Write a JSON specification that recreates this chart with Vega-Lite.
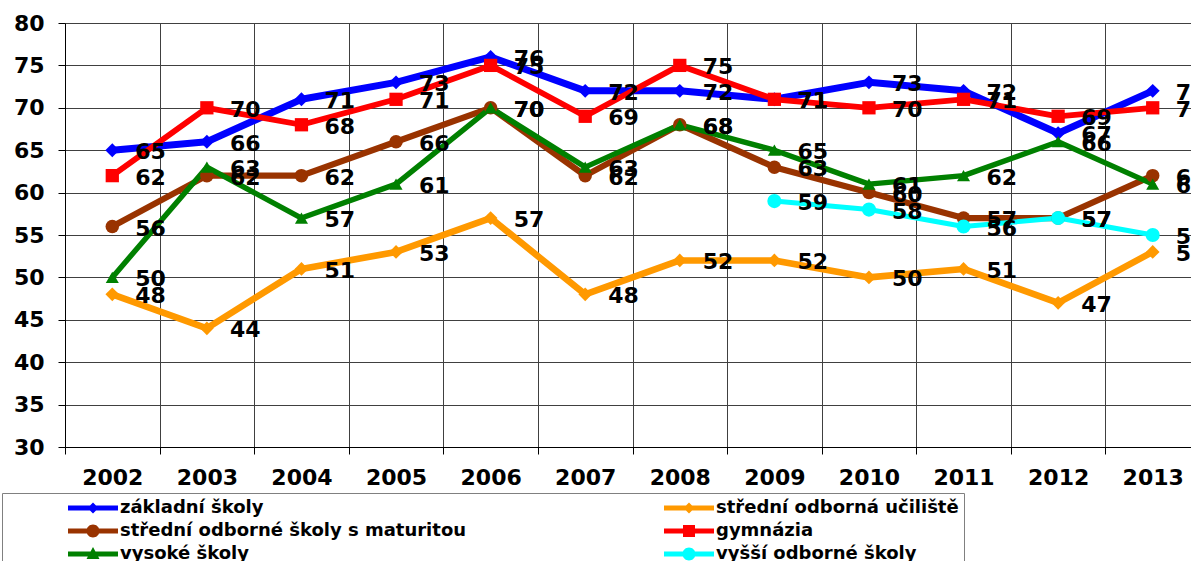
{
  "$schema": "https://vega.github.io/schema/vega-lite/v6.json",
  "autosize": {"type": "none"},
  "width": 1135,
  "height": 424,
  "padding": {"left": 65, "top": 23, "right": 0, "bottom": 114},
  "background": "white",
  "config": {
    "font": "DejaVu Sans",
    "view": {"stroke": null},
    "axis": {
      "labelFont": "DejaVu Sans", "labelFontWeight": "bold", "labelFontSize": 22, "labelColor": "#000",
      "domainColor": "#000", "tickColor": "#000", "gridColor": "#404040", "gridWidth": 1, "gridOpacity": 1,
      "tickSize": 7, "title": null
    },
    "legend": {
      "orient": "none", "legendX": -63, "legendY": 470,
      "titleOrient": "left", "titleAngle": 0, "titlePadding": 61, "titleFontSize": 17,
      "columns": 2, "direction": "vertical", "gridAlign": "all",
      "padding": 5, "strokeColor": "#808080", "fillColor": "white",
      "symbolSize": 400, "symbolStrokeWidth": 0, "symbolOpacity": 1,
      "labelOffset": 32, "labelFont": "DejaVu Sans", "labelFontWeight": "bold", "labelFontSize": 18, "labelColor": "#000",
      "labelLimit": 600, "columnPadding": 197, "rowPadding": 4
    }
  },
  "data": {"values": [
    {"series": "základní školy", "year": "2002", "value": 65},
    {"series": "základní školy", "year": "2003", "value": 66},
    {"series": "základní školy", "year": "2004", "value": 71},
    {"series": "základní školy", "year": "2005", "value": 73},
    {"series": "základní školy", "year": "2006", "value": 76},
    {"series": "základní školy", "year": "2007", "value": 72},
    {"series": "základní školy", "year": "2008", "value": 72},
    {"series": "základní školy", "year": "2009", "value": 71},
    {"series": "základní školy", "year": "2010", "value": 73},
    {"series": "základní školy", "year": "2011", "value": 72},
    {"series": "základní školy", "year": "2012", "value": 67},
    {"series": "základní školy", "year": "2013", "value": 72},
    {"series": "střední odborná učiliště", "year": "2002", "value": 48},
    {"series": "střední odborná učiliště", "year": "2003", "value": 44},
    {"series": "střední odborná učiliště", "year": "2004", "value": 51},
    {"series": "střední odborná učiliště", "year": "2005", "value": 53},
    {"series": "střední odborná učiliště", "year": "2006", "value": 57},
    {"series": "střední odborná učiliště", "year": "2007", "value": 48},
    {"series": "střední odborná učiliště", "year": "2008", "value": 52},
    {"series": "střední odborná učiliště", "year": "2009", "value": 52},
    {"series": "střední odborná učiliště", "year": "2010", "value": 50},
    {"series": "střední odborná učiliště", "year": "2011", "value": 51},
    {"series": "střední odborná učiliště", "year": "2012", "value": 47},
    {"series": "střední odborná učiliště", "year": "2013", "value": 53},
    {"series": "střední odborné školy s maturitou", "year": "2002", "value": 56},
    {"series": "střední odborné školy s maturitou", "year": "2003", "value": 62},
    {"series": "střední odborné školy s maturitou", "year": "2004", "value": 62},
    {"series": "střední odborné školy s maturitou", "year": "2005", "value": 66},
    {"series": "střední odborné školy s maturitou", "year": "2006", "value": 70},
    {"series": "střední odborné školy s maturitou", "year": "2007", "value": 62},
    {"series": "střední odborné školy s maturitou", "year": "2008", "value": 68},
    {"series": "střední odborné školy s maturitou", "year": "2009", "value": 63},
    {"series": "střední odborné školy s maturitou", "year": "2010", "value": 60},
    {"series": "střední odborné školy s maturitou", "year": "2011", "value": 57},
    {"series": "střední odborné školy s maturitou", "year": "2012", "value": 57},
    {"series": "střední odborné školy s maturitou", "year": "2013", "value": 62},
    {"series": "gymnázia", "year": "2002", "value": 62},
    {"series": "gymnázia", "year": "2003", "value": 70},
    {"series": "gymnázia", "year": "2004", "value": 68},
    {"series": "gymnázia", "year": "2005", "value": 71},
    {"series": "gymnázia", "year": "2006", "value": 75},
    {"series": "gymnázia", "year": "2007", "value": 69},
    {"series": "gymnázia", "year": "2008", "value": 75},
    {"series": "gymnázia", "year": "2009", "value": 71},
    {"series": "gymnázia", "year": "2010", "value": 70},
    {"series": "gymnázia", "year": "2011", "value": 71},
    {"series": "gymnázia", "year": "2012", "value": 69},
    {"series": "gymnázia", "year": "2013", "value": 70},
    {"series": "vysoké školy", "year": "2002", "value": 50},
    {"series": "vysoké školy", "year": "2003", "value": 63},
    {"series": "vysoké školy", "year": "2004", "value": 57},
    {"series": "vysoké školy", "year": "2005", "value": 61},
    {"series": "vysoké školy", "year": "2006", "value": 70},
    {"series": "vysoké školy", "year": "2007", "value": 63},
    {"series": "vysoké školy", "year": "2008", "value": 68},
    {"series": "vysoké školy", "year": "2009", "value": 65},
    {"series": "vysoké školy", "year": "2010", "value": 61},
    {"series": "vysoké školy", "year": "2011", "value": 62},
    {"series": "vysoké školy", "year": "2012", "value": 66},
    {"series": "vysoké školy", "year": "2013", "value": 61},
    {"series": "vyšší odborné školy", "year": "2009", "value": 59},
    {"series": "vyšší odborné školy", "year": "2010", "value": 58},
    {"series": "vyšší odborné školy", "year": "2011", "value": 56},
    {"series": "vyšší odborné školy", "year": "2012", "value": 57},
    {"series": "vyšší odborné školy", "year": "2013", "value": 55}
  ]},
  "encoding": {
    "x": {
      "field": "year", "type": "ordinal",
      "scale": {"type": "band", "paddingInner": 0, "paddingOuter": 0,
        "domain": ["2002","2003","2004","2005","2006","2007","2008","2009","2010","2011","2012","2013"]},
      "axis": {"labelAngle": 0, "grid": true, "tickBand": "extent", "labelPadding": 13, "domainWidth": 1}
    },
    "y": {
      "field": "value", "type": "quantitative",
      "scale": {"domain": [30, 80], "nice": false, "zero": false},
      "axis": {"values": [30,35,40,45,50,55,60,65,70,75,80], "grid": true, "labelPadding": 14}
    }
  },
  "layer": [
    {
      "mark": {"type": "line", "strokeJoin": "round", "strokeCap": "round"},
      "encoding": {
        "color": {
          "field": "series", "type": "nominal",
          "scale": {
            "domain": ["základní školy","střední odborné školy s maturitou","vysoké školy","střední odborná učiliště","gymnázia","vyšší odborné školy"],
            "range": ["#0000FF","#993300","#008000","#FF9900","#FF0000","#00FFFF"]
          },
          "legend": {
            "title": "\u00a0",
            "encode": {
              "symbols": {"update": {
                "shape": {"signal": "datum.value === 'gymnázia' ? 'M-1,-0.25L4,-0.25L4,0.25L-1,0.25ZM0.9,-0.6L2.1,-0.6L2.1,0.6L0.9,0.6Z' : (datum.value === 'vysoké školy' ? 'M-1,-0.25L4,-0.25L4,0.25L-1,0.25ZM1.5,-0.7L2.15,0.5L0.85,0.5Z' : ((datum.value === 'střední odborné školy s maturitou' || datum.value === 'vyšší odborné školy') ? 'M-1,-0.25L4,-0.25L4,0.25L-1,0.25ZM0.85,0A0.65,0.65,0,1,1,2.15,0A0.65,0.65,0,1,1,0.85,0Z' : 'M-1,-0.25L4,-0.25L4,0.25L-1,0.25ZM1.5,-0.55L2.05,0L1.5,0.55L0.95,0Z'))"},
                "fill": {"scale": "color", "field": "value"},
                "stroke": {"value": "transparent"},
                "strokeWidth": {"value": 0},
                "opacity": {"value": 1},
                "size": {"value": 400}
              }}
            }
          }
        },
        "strokeWidth": {
          "field": "series", "type": "nominal", "legend": null,
          "scale": {
            "domain": ["základní školy","střední odborná učiliště","střední odborné školy s maturitou","gymnázia","vysoké školy","vyšší odborné školy"],
            "range": [7, 5, 5, 5, 5, 5]
          }
        }
      }
    },
    {
      "mark": {"type": "point", "filled": true, "opacity": 1},
      "encoding": {
        "color": {"field": "series", "type": "nominal"},
        "shape": {
          "field": "series", "type": "nominal", "legend": null,
          "scale": {
            "domain": ["základní školy","střední odborná učiliště","střední odborné školy s maturitou","gymnázia","vysoké školy","vyšší odborné školy"],
            "range": ["diamond","diamond","circle","square","triangle-up","circle"]
          }
        },
        "size": {
          "field": "series", "type": "nominal", "legend": null,
          "scale": {
            "domain": ["vyšší odborné školy","základní školy","střední odborná učiliště","střední odborné školy s maturitou","gymnázia","vysoké školy"],
            "range": [200, 170, 170, 220, 290, 260]
          }
        }
      }
    },
    {
      "mark": {"type": "text", "align": "left", "baseline": "middle", "dx": 23, "dy": 2, "font": "DejaVu Sans", "fontWeight": "bold", "fontSize": 22, "color": "#000"},
      "encoding": {
        "text": {"field": "value", "type": "quantitative"}
      }
    }
  ]
}
